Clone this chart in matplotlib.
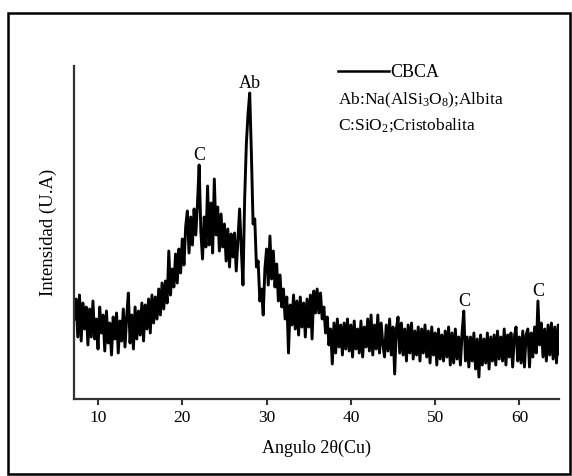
import numpy as np
import matplotlib
matplotlib.use('Agg')
from matplotlib import pyplot as plt
from matplotlib.patches import Rectangle

plt.rcParams['font.family'] = ['Liberation Serif', 'DejaVu Serif']
plt.rcParams['mathtext.fontset'] = 'custom'
plt.rcParams['mathtext.rm'] = 'Liberation Serif'
plt.rcParams['mathtext.it'] = 'Liberation Serif:italic'

# Data: XRD scan, start angle and step of the scan, intensities
scan_start = 7.2
scan_step = 0.2
intensity = [
    80, 100, 62, 104,            # 7.2 - 7.8
    58, 96, 70, 92, 54,          # 8
    90, 62, 98, 60, 80,          # 9
    50, 92, 66, 84, 48,          # 10
    88, 56, 76, 44, 82,          # 11
    60, 86, 46, 78, 58,          # 12
    90, 52, 82, 106, 56,         # 13
    84, 50, 92, 60, 88,          # 14
    64, 96, 58, 94, 70,          # 15
    100, 66, 104, 76, 102,       # 16
    80, 110, 84, 116, 90,        # 17
    118, 96, 148, 104, 130,      # 18
    112, 145, 116, 150, 126,     # 19
    160, 134, 172, 188, 146,     # 20
    182, 154, 190, 164, 195,     # 21
    234, 168, 140, 182, 152,     # 22
    213, 154, 196, 146, 220,     # 23
    164, 192, 148, 185, 152,     # 24
    175, 138, 170, 132, 165,     # 25
    142, 166, 128, 160, 190,     # 26
    150, 114, 200, 255, 285,     # 27
    306, 245, 175, 180, 132,     # 28
    138, 98, 110, 84, 130,       # 29
    150, 114, 163, 120, 148,     # 30
    112, 135, 98, 124, 92,       # 31
    110, 80, 102, 46, 94,        # 32
    74, 104, 70, 98, 64,         # 33
    102, 72, 96, 62, 100,        # 34
    72, 104, 60, 108, 86,        # 35
    110, 86, 106, 80, 92,        # 36
    66, 82, 54, 70, 35,          # 37
    76, 46, 80, 52, 74,          # 38
    44, 76, 50, 80, 48,          # 39
    74, 42, 78, 50, 70,          # 40
    46, 78, 42, 72, 52,          # 41
    80, 48, 84, 44, 74,          # 42
    50, 84, 46, 76, 54,          # 43
    42, 74, 48, 80, 44,          # 44
    72, 25, 70, 82, 46,          # 45
    76, 44, 70, 38, 74,          # 46
    46, 76, 40, 68, 44,          # 47
    72, 38, 70, 46, 74,          # 48
    42, 68, 36, 72, 44,          # 49
    66, 34, 70, 40, 64,          # 50
    38, 68, 42, 72, 34,          # 51
    66, 36, 70, 40, 62,          # 52
    34, 66, 88, 38, 62,          # 53
    32, 62, 38, 66, 30,          # 54
    60, 22, 64, 34, 60,          # 55
    36, 66, 30, 62, 38,          # 56
    64, 34, 68, 40, 62,          # 57
    38, 70, 34, 64, 42,          # 58
    66, 32, 62, 72, 38,          # 59
    62, 36, 68, 32, 64,          # 60
    70, 32, 66, 42, 72,          # 61
    46, 98, 54, 76, 42,          # 62
    70, 38, 74, 44, 76,          # 63
    40, 72, 36, 74, 44,          # 64
    64,                          # 65
]
angle = np.round(scan_start + scan_step * np.arange(len(intensity)), 1)

# peak labels (angle, intensity of peak top, label)
peak_angles = [22.0, 28.0, 53.4, 62.2]
peak_labels = ['C', 'Ab', 'C', 'C']
peak_heights = [234, 306, 88, 98]

xticks = [10, 20, 30, 40, 50, 60]

fig = plt.figure(figsize=(5.72, 4.76), dpi=100)
ax = fig.add_axes([74 / 572, 1 - 399 / 476, (559 - 74) / 572, (399 - 66) / 476])

ax.plot(angle, intensity, color='black', lw=2.1, label='CBCA')

for a, h, lab in zip(peak_angles, peak_heights, peak_labels):
    ax.annotate(lab, (a, h), xytext=(0, 1), textcoords='offset points',
                ha='center', va='bottom', fontsize=13)

ax.set_xlim(7.15, 64.7)
ax.set_ylim(0, 333)
ax.set_xticks(xticks)
ax.set_yticks([])
ax.tick_params(axis='x', direction='out', length=4, width=1.5, labelsize=12.5, pad=4, color='#333333')
for s in ['top', 'right']:
    ax.spines[s].set_visible(False)
for s in ['left', 'bottom']:
    ax.spines[s].set_linewidth(1.6)
    ax.spines[s].set_color('#333333')

ax.set_xlabel('Angulo 2θ(Cu)', fontsize=13, labelpad=10)
ax.set_ylabel('Intensidad (U.A)', fontsize=13.5, labelpad=12)

leg = ax.legend(loc='upper left', bbox_to_anchor=(338 / 572, 1 - 64 / 476),
                bbox_transform=fig.transFigure, frameon=False, fontsize=13,
                handlelength=2.8, handletextpad=0.1, borderpad=0, borderaxespad=0)
for line in leg.get_lines():
    line.set_linewidth(1.8)
fig.text(338 / 572, 1 - 100 / 476, 'Ab:Na(AlSi$_3$O$_8$);Albita', fontsize=12.5, va='center')
fig.text(338 / 572, 1 - 125 / 476, 'C:SiO$_2$;Cristobalita', fontsize=12.5, va='center')

# frame around the whole figure
fig.patches.append(Rectangle((8 / 572, 2 / 476), 562 / 572, 461 / 476, transform=fig.transFigure,
                             fill=False, lw=1.8, edgecolor='black'))

fig.savefig('out.png', dpi=100)
